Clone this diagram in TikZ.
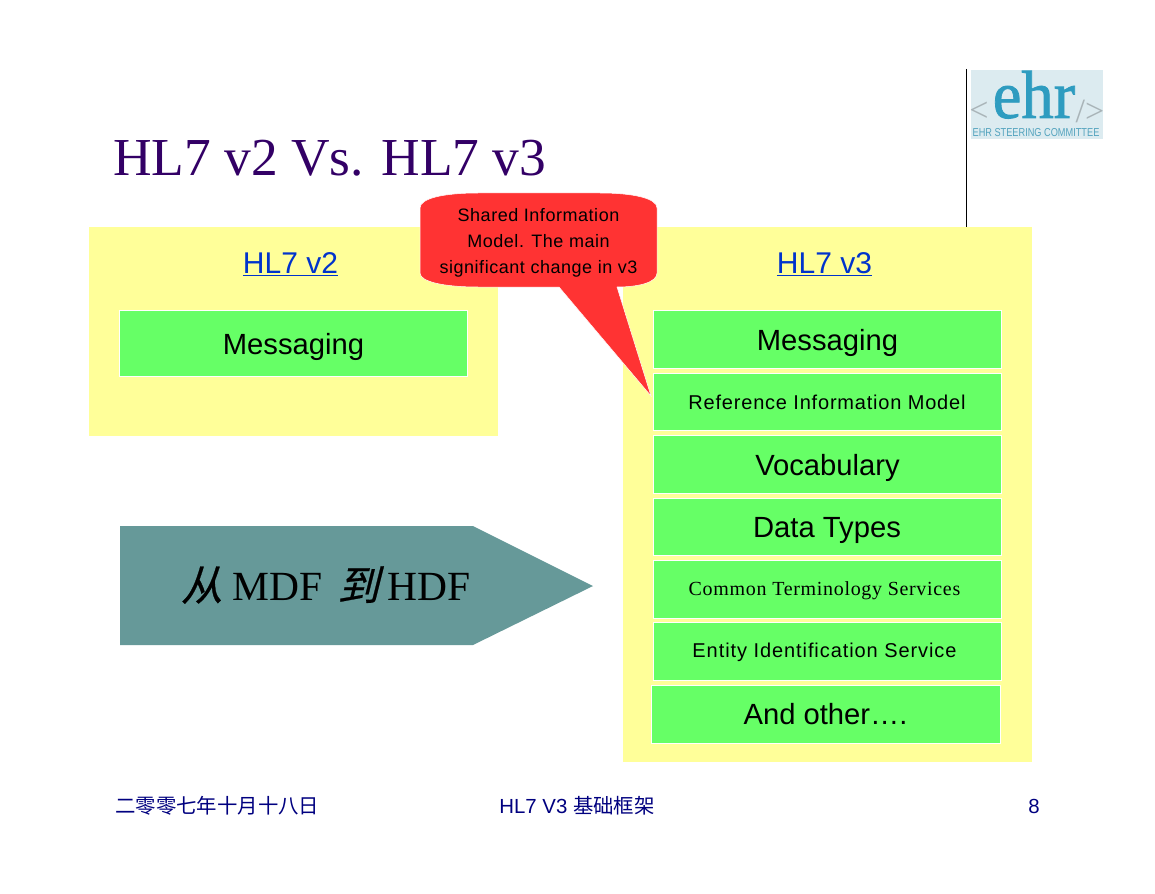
\documentclass[tikz,border=0pt]{standalone}
\usepackage{fontspec}
\setmainfont{Liberation Sans}
\newfontfamily\serifx{Liberation Serif}
\newfontfamily\serifheavy[FakeBold=1.2]{Liberation Serif}
\newfontfamily\serifspaced[LetterSpace=3.4]{Liberation Serif}
\newfontfamily\sansspacedA[LetterSpace=4]{Liberation Sans}
\newfontfamily\sansspacedB[LetterSpace=4.6]{Liberation Sans}
\newfontfamily\sansspacedC[LetterSpace=3]{Liberation Sans}
\newfontfamily\cjk{Noto Sans CJK SC}
\newfontfamily\cjkslant[FakeSlant=0.25,FakeBold=0.6]{Noto Sans CJK SC}
\definecolor{panel}{HTML}{FFFF99}
\definecolor{boxgreen}{HTML}{66FF66}
\definecolor{calloutred}{HTML}{FF3333}
\definecolor{arrowteal}{HTML}{669999}
\definecolor{titlepurple}{HTML}{330066}
\definecolor{footnavy}{HTML}{000080}
\definecolor{linkblue}{HTML}{0033CC}
\definecolor{logobg}{HTML}{DCEBF0}
\definecolor{logoteal}{HTML}{2E9CC0}
\definecolor{logogrey}{HTML}{A9B4B8}
\tikzset{
  x=1pt,y=-1pt,
  panelbox/.style={fill=panel,draw=none},
  greenbox/.style={fill=boxgreen,draw=white,line width=0.8pt},
  boxlabel/.style={font=\fontsize{29.2}{32}\selectfont,text=black,inner sep=0pt,anchor=center},
  smalllabel/.style={font=\sansspacedA\fontsize{20}{24}\selectfont,text=black,inner sep=0pt,anchor=center},
  linklabel/.style={font=\fontsize{30}{32}\selectfont,text=linkblue,inner sep=0pt,anchor=center},
  footlabel/.style={font=\fontsize{20.4}{24}\selectfont,text=footnavy,inner sep=0pt,anchor=center},
}
\begin{document}
\begin{tikzpicture}
\useasboundingbox (0,0) rectangle (1155,893);
\fill[white] (0,0) rectangle (1155,893);
% logo
\fill[logobg] (971,70) rectangle (1103,139);
\node[inner sep=0pt,anchor=base,xscale=0.95,transform shape,text=logoteal,font=\serifheavy\fontsize{68}{68}\selectfont] (logoehr) at (1034,118) {ehr};
\node[inner sep=0pt,text=logogrey,font=\serifx\fontsize{34}{34}\selectfont] (logol) at (979,112) {<};
\node[inner sep=0pt,text=logogrey,font=\serifx\fontsize{34}{34}\selectfont] (logor) at (1090,111) {/>};
\node[inner sep=0pt,xscale=0.8,transform shape,text=logoteal!70!logogrey,font=\fontsize{11.5}{12}\selectfont] (logot) at (1036,133) {EHR STEERING COMMITTEE};
\draw[black,line width=1pt] (966.5,69) -- (966.5,227);
% title
\node[anchor=west,inner sep=0pt,text=titlepurple,font=\serifx\fontsize{53.4}{60}\selectfont] (title) at (113,158.5) {HL7 v2 Vs. HL7 v3};
% panels
\path[panelbox] (89,227) rectangle (498,436);
\path[panelbox] (623,227) rectangle (1032,762);
\node[linklabel] (v2) at (290.5,264) {\underline{HL7 v2}};
\node[linklabel] (v3) at (824.5,264) {\underline{HL7 v3}};
% boxes
\path[greenbox] (119.5,310.5) rectangle (467.5,376.5);
\node[boxlabel] (m2) at (293.5,347) {Messaging};
\path[greenbox] (653.5,310.5) rectangle (1001.5,368.5);
\node[boxlabel] (m3) at (827.5,343) {Messaging};
\path[greenbox] (653.5,373.5) rectangle (1001.5,430.5);
\node[smalllabel] (rim) at (827,402.5) {Reference Information Model};
\path[greenbox] (653.5,435.5) rectangle (1001.5,493.5);
\node[boxlabel] (voc) at (827.5,468) {Vocabulary};
\path[greenbox] (653.5,498.5) rectangle (1001.5,555.5);
\node[boxlabel] (dt) at (827,530.5) {Data Types};
\path[greenbox] (653.5,560.5) rectangle (1001.5,618.5);
\node[smalllabel,font=\serifspaced\fontsize{20}{24}\selectfont] (cts) at (824.5,591) {Common Terminology Services};
\path[greenbox] (653.5,622.5) rectangle (1001.5,680.5);
\node[smalllabel,font=\sansspacedB\fontsize{20}{24}\selectfont] (eis) at (824.5,652) {Entity Identification Service};
\path[greenbox] (651.5,685.5) rectangle (1000.5,743.5);
\node[boxlabel] (other) at (825.5,714) {And other….};
% callout
\fill[calloutred,draw=white,line width=0.5pt]
  (478,193) -- (600,193)
  .. controls (632,193) and (657,198) .. (657,208)
  -- (657,273)
  .. controls (657,282) and (640,287) .. (617,287)
  -- (651,396) -- (559,287) -- (478,287)
  .. controls (445,287) and (420,282) .. (420,273)
  -- (420,208)
  .. controls (420,198) and (445,193) .. (478,193) -- cycle;
\node[smalllabel,font=\sansspacedC\fontsize{18}{26}\selectfont,align=center] (callout) at (538.5,242.5) {Shared Information\\Model.  The main\\significant change in v3};
% arrow
\fill[arrowteal] (120,526) -- (473,526) -- (593,586) -- (473,645) -- (120,645) -- cycle;
\node[inner sep=0pt,anchor=center,text=black,font=\serifx\fontsize{41.5}{48}\selectfont] (mdf) at (326,585) {{\cjkslant\fontsize{41.5}{48}\selectfont 从}\kern10pt MDF\kern15pt{\cjkslant\fontsize{41.5}{48}\selectfont 到}\kern9pt HDF};
% footer
\node[footlabel,anchor=west] (fdate) at (115,806) {\cjk 二零零七年十月十八日};
\node[footlabel,anchor=center] (fmid) at (577,806) {HL7 V3 {\cjk 基础框架}};
\node[footlabel,anchor=east] (fnum) at (1040,806) {8};
\end{tikzpicture}
\end{document}
